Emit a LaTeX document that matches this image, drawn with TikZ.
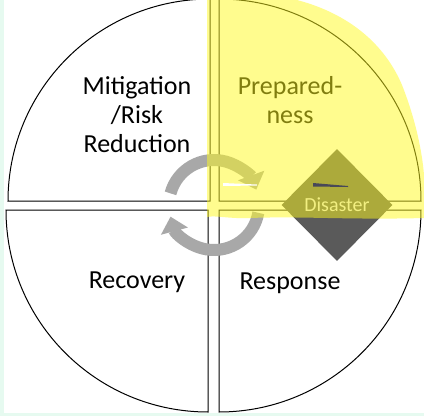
\documentclass[tikz,border=0pt]{standalone}
\usepackage{fontspec}
\setmainfont{Carlito}
\usetikzlibrary{arrows.meta,shapes.geometric,positioning}
\definecolor{cmint}{RGB}{230,250,240}
\definecolor{cring}{RGB}{168,168,168}
\definecolor{cdis}{RGB}{90,90,90}
\definecolor{chigh}{RGB}{255,250,30}
\definecolor{cpen}{RGB}{72,72,88}

\begin{document}
\begin{tikzpicture}[x=1pt,y=-1pt,
  sector/.style={draw=black,fill=white,line width=1pt},
  lbl/.style={align=center,inner sep=0pt,font=\fontsize{26}{29}\selectfont},
  cyc/.style={draw=cring,line width=12pt,-{Triangle[width=27pt,length=15pt]}}]
\useasboundingbox (0,0) rectangle (424,416);
\fill[white] (0,0) rectangle (424,416);
\fill[cmint] (0,0) rectangle (4,416);
\fill[cmint] (0,413) rectangle (424,416);
% four phases
\draw[sector] (210,201) -- ++(180:202) arc[start angle=180,end angle=270,radius=202] -- cycle;
\draw[sector] (219,201) -- ++(270:202) arc[start angle=270,end angle=360,radius=202] -- cycle;
\draw[sector] (208,210) -- ++(90:202) arc[start angle=90,end angle=180,radius=202] -- cycle;
\draw[sector] (219,210) -- ++(0:202) arc[start angle=0,end angle=90,radius=202] -- cycle;
\node[lbl] (mitig) at (137,115) {Mitigation\\/Risk\\Reduction};
\node[lbl] (prep)  at (290,100) {Prepared-\\ness};
\node[lbl] (recov) at (137,282) {Recovery};
\node[lbl] (resp)  at (290,283) {Response};
% cycle arrows
\coordinate (hub) at (214,205);
\draw[cyc] ([shift={(-165:45)}]hub) arc[start angle=-165,end angle=-20,radius=45];
\draw[cyc] ([shift={(10:45)}]hub) arc[start angle=10,end angle=165,radius=45];
\node (disaster) [diamond,fill=cdis,minimum width=111pt,minimum height=112pt,inner sep=0pt,
      text=black!10,font=\fontsize{20}{22}\selectfont] at (337,205) {Disaster};
% highlighter
\fill[chigh,opacity=0.5] (207,0) -- (297,0) .. controls (350,14) and (385,45) .. (402,85)
  .. controls (415,118) and (422,150) .. (424,175) -- (424,218)
  .. controls (350,220) and (300,216) .. (250,218)
  .. controls (230,219) and (215,215) .. (207,217) -- cycle;
\fill[cpen] (313,183) -- (313,186.5) -- (348,187) -- (348,186) -- cycle;
\fill[white] (223,183) -- (223,186) -- (257,185.5) -- (257,184.5) -- cycle;
\end{tikzpicture}
\end{document}
